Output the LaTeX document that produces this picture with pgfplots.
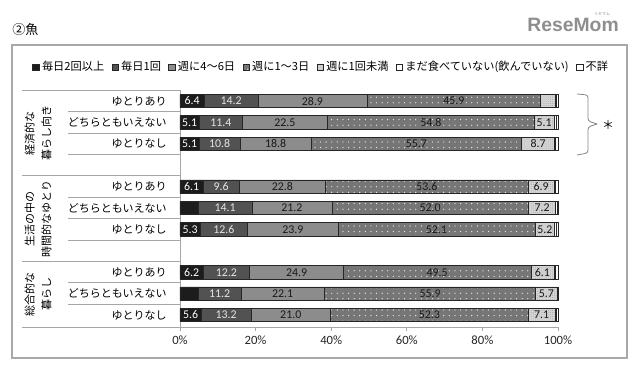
\documentclass[border=0pt]{standalone}
\usepackage{pgfplots}
\pgfplotsset{compat=1.18}
\usepackage{pgfplotstable}
\usetikzlibrary{patterns.meta}
\usepackage{fontspec}
\setmainfont{Noto Sans CJK JP}
\newfontfamily\numfont{Carlito}
\newfontfamily\logofont{Liberation Sans}
\definecolor{cA}{HTML}{1C1C1C}
\definecolor{cB}{HTML}{525252}
\definecolor{cC}{HTML}{8C8C8C}
\definecolor{cD}{HTML}{767676}
\definecolor{cE}{HTML}{D4D4D4}
\definecolor{frameC}{HTML}{A8A8A8}
\definecolor{lineC}{HTML}{A6A6A6}
\definecolor{logoC}{HTML}{8E8E8E}
\pgfplotstableread{
y a b c d e f g la lb lc ld le
0 6.4 14.2 28.9 45.9 4.0 0.2 0.4 6.4 14.2 28.9 45.9 {}
1 5.1 11.4 22.5 54.8 5.1 0.6 0.5 5.1 11.4 22.5 54.8 5.1
2 5.1 10.8 18.8 55.7 8.7 0.3 0.6 5.1 10.8 18.8 55.7 8.7
4 6.1 9.6 22.8 53.6 6.9 0.3 0.7 6.1 9.6 22.8 53.6 6.9
5 4.9 14.1 21.2 52.0 7.2 0.3 0.3 {} 14.1 21.2 52.0 7.2
6 5.3 12.6 23.9 52.1 5.2 0.4 0.5 5.3 12.6 23.9 52.1 5.2
8 6.2 12.2 24.9 49.5 6.1 0.4 0.7 6.2 12.2 24.9 49.5 6.1
9 4.9 11.2 22.1 55.9 5.7 0.1 0.1 {} 11.2 22.1 55.9 5.7
10 5.6 13.2 21.0 52.3 7.1 0.3 0.5 5.6 13.2 21.0 52.3 7.1
}\data
\begin{document}
\begin{tikzpicture}
\path[use as bounding box] (0,0) rectangle (480pt,276pt);
\begin{scope}[x=0.75pt,y=-0.75pt,shift={(0pt,276pt)}]
  % frame
  \draw[frameC, line width=1.1pt] (12,45) rectangle (627,358);
  % title
  \node[anchor=west, inner sep=0pt, font=\fontsize{9.8}{11}\selectfont] at (12,30) {②魚};
  % logo
  \node[anchor=east, inner sep=0pt, text=logoC, font=\logofont\bfseries\fontsize{14.5}{16}\selectfont] at (619,25) {ReseMom};
  \node[inner sep=0pt, text=logoC, font=\fontsize{3}{3}\selectfont] at (602,14) {リセマム};
  % table lines
  \foreach \r in {-0.5,3.5,7.5} \draw[lineC, line width=0.6pt] (22,{101+21.4*\r}) -- (180,{101+21.4*\r});
  \draw[lineC, line width=0.6pt] (22,327) -- (180,327);
  \foreach \r in {0.5,1.5,2.5,4.5,5.5,6.5,8.5,9.5} \draw[lineC, line width=0.6pt] (68,{101+21.4*\r}) -- (180,{101+21.4*\r});
  % group labels
  \node[rotate=90, align=center, inner sep=0pt, font=\fontsize{8.25}{12.5}\selectfont] at (38,{101+21.4*1.5}) {経済的な\\暮らし向き};
  \node[rotate=90, align=center, inner sep=0pt, font=\fontsize{8.25}{12.5}\selectfont] at (38,{101+21.4*5.5}) {生活の中の\\時間的なゆとり};
  \node[rotate=90, align=center, inner sep=0pt, font=\fontsize{8.25}{12.5}\selectfont] at (38,{101+21.4*9.03}) {総合的な\\暮らし};
  % row labels
  \foreach \g in {0,4,8} {
    \node[anchor=east, inner sep=0pt, font=\fontsize{8.25}{10}\selectfont] at (167,{101+21.4*\g}) {ゆとりあり};
    \node[anchor=east, inner sep=0pt, font=\fontsize{8.25}{10}\selectfont] at (167,{101+21.4*(\g+1)}) {どちらともいえない};
    \node[anchor=east, inner sep=0pt, font=\fontsize{8.25}{10}\selectfont] at (167,{101+21.4*(\g+2)}) {ゆとりなし};
  }
  % bracket and asterisk
  \draw[lineC!80!black, line width=0.6pt, rounded corners=2pt] (577,94) -- (588,95) -- (588,121) -- (597,124);
  \draw[lineC!80!black, line width=0.6pt, rounded corners=2pt] (597,124) -- (588,127) -- (588,153) -- (577,155);
  \node[inner sep=0pt, font=\fontsize{9}{10}\selectfont] at (608,125) {＊};
\end{scope}

\begin{axis}[
  at={(135pt,30.75pt)}, anchor=south west, scale only axis,
  width=283.5pt, height=177.5pt,
  xbar stacked, bar width=10pt,
  xmin=0, xmax=100, ymin=-10.56, ymax=0.5,
  axis x line*=bottom, axis y line*=left,
  axis line style={draw=lineC, line width=0.6pt, -},
  ytick=\empty,
  xtick={0,20,40,60,80,100},
  xticklabels={0\%,20\%,40\%,60\%,80\%,100\%},
  xticklabel style={font=\numfont\fontsize{9.5}{11}\selectfont, text=black!85},
  tick align=outside, major tick length=3pt,
  tick style={draw=lineC, line width=0.6pt},
  legend columns=7,
  legend style={at={(0.372,1.098)}, anchor=center, draw=none, fill=none, inner sep=0pt,
     font=\fontsize{8.4}{10}\selectfont,
     nodes={inner sep=0.5pt},
     /tikz/every odd column/.append style={column sep=1.5pt},
     /tikz/every even column/.append style={column sep=5pt}},
  legend image code/.code={\draw[#1] (0pt,-2.4pt) rectangle (4.8pt,2.4pt);},
  clip=false,
]
\addplot[fill=cA, draw=black!85, line width=0.4pt] table[x=a, y expr=-\thisrow{y}] {\data};
\addplot[fill=cB, draw=black!85, line width=0.4pt] table[x=b, y expr=-\thisrow{y}] {\data};
\addplot[fill=cC, draw=black!85, line width=0.4pt] table[x=c, y expr=-\thisrow{y}] {\data};
\addplot[fill=cD, draw=black!85, line width=0.4pt, postaction={pattern color=white!85!gray, pattern={Dots[distance=4.2pt, radius=0.5pt, xshift=1pt, yshift=1.5pt]}}] table[x=d, y expr=-\thisrow{y}] {\data};
\addplot[fill=cE, draw=black!85, line width=0.4pt, postaction={pattern color=gray!80, pattern={Dots[distance=1.6pt, radius=0.3pt]}}] table[x=e, y expr=-\thisrow{y}] {\data};
\addplot[fill=white, draw=black!85, line width=0.4pt] table[x=f, y expr=-\thisrow{y}] {\data};
\addplot[fill=white, draw=black!85, line width=0.4pt] table[x=g, y expr=-\thisrow{y}] {\data};
\legend{毎日2回以上,毎日1回,週に4～6日,週に1～3日,週に1回未満,まだ食べていない(飲んでいない),不詳}
\end{axis}

\begin{axis}[
  at={(135pt,30.75pt)}, anchor=south west, scale only axis,
  width=283.5pt, height=177.5pt,
  xmin=0, xmax=100, ymin=-10.56, ymax=0.5,
  hide axis, clip=false,
  point meta=explicit symbolic,
  nodes near coords,
  every node near coord/.append style={anchor=center, inner sep=0pt, font=\numfont\fontsize{8.9}{10}\selectfont},
]
\addplot[draw=none, mark=none, nodes near coords, every node near coord/.append style={text=white}] table[x expr=\thisrow{a}/2, y expr=-\thisrow{y}, meta=la] {\data};
\addplot[draw=none, mark=none, nodes near coords, every node near coord/.append style={text=white!90!black}] table[x expr=\thisrow{a}+\thisrow{b}/2, y expr=-\thisrow{y}, meta=lb] {\data};
\addplot[draw=none, mark=none, nodes near coords, every node near coord/.append style={text=black!90}] table[x expr=\thisrow{a}+\thisrow{b}+\thisrow{c}/2, y expr=-\thisrow{y}, meta=lc] {\data};
\addplot[draw=none, mark=none, nodes near coords, every node near coord/.append style={text=black!90}] table[x expr=\thisrow{a}+\thisrow{b}+\thisrow{c}+\thisrow{d}/2, y expr=-\thisrow{y}, meta=ld] {\data};
\addplot[draw=none, mark=none, nodes near coords, every node near coord/.append style={text=black!90}] table[x expr=\thisrow{a}+\thisrow{b}+\thisrow{c}+\thisrow{d}+\thisrow{e}/2, y expr=-\thisrow{y}, meta=le] {\data};
\end{axis}
\end{tikzpicture}
\end{document}
